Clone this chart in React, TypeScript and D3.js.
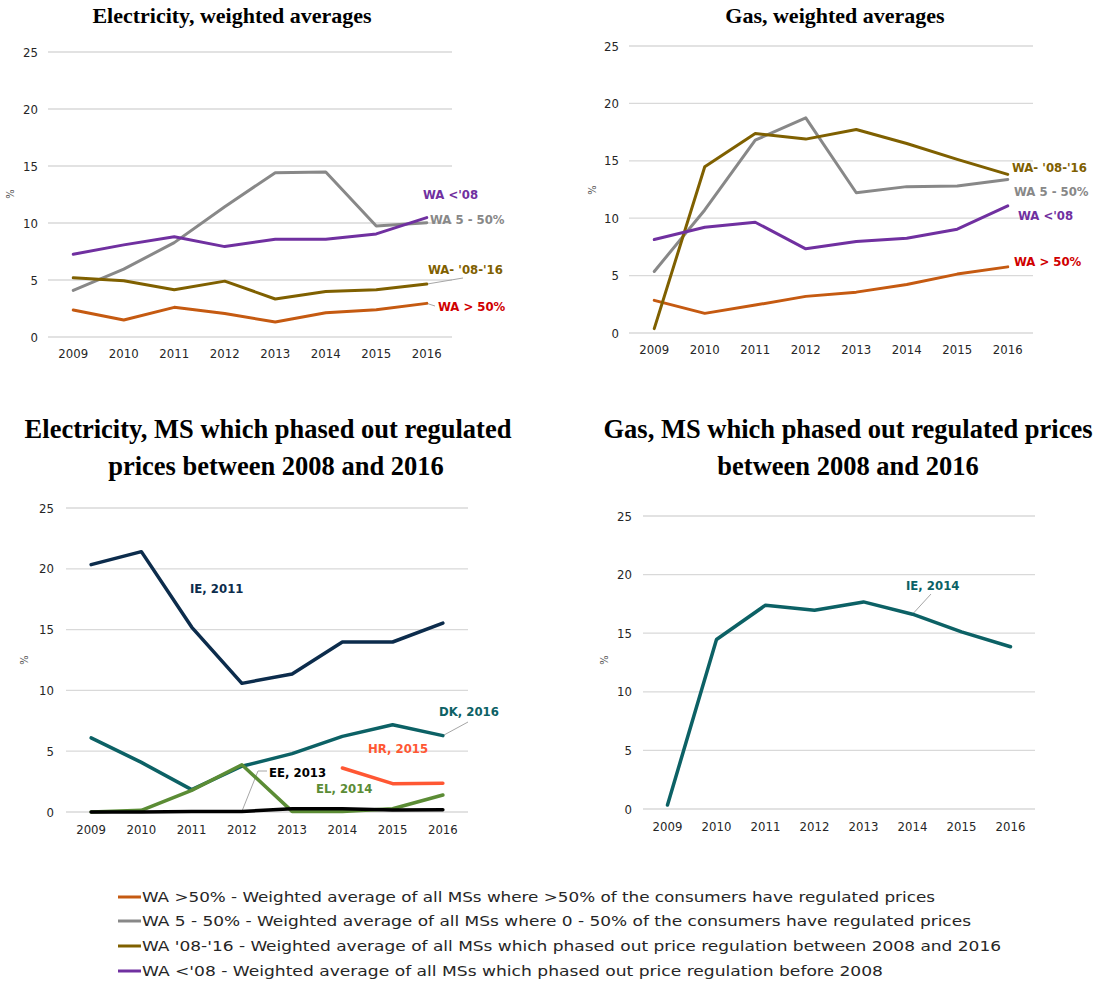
import React from "react";
import * as d3 from "d3";

const years = [2009, 2010, 2011, 2012, 2013, 2014, 2015, 2016];
const yTicks = [0, 5, 10, 15, 20, 25];

// Electricity, weighted averages
const elecWaOver50 = [2.36, 1.49, 2.6, 2.07, 1.31, 2.13, 2.39, 2.95];
const elecWa5to50 = [4.08, 5.95, 8.28, 11.43, 14.41, 14.47, 9.74, 10.03];
const elecWa0816 = [5.19, 4.93, 4.14, 4.9, 3.33, 4.0, 4.14, 4.64];
const elecWaBefore08 = [7.26, 8.08, 8.8, 7.93, 8.58, 8.58, 9.04, 10.47];

// Gas, weighted averages
const gasWaOver50 = [2.84, 1.71, 2.43, 3.19, 3.56, 4.23, 5.13, 5.76];
const gasWa5to50 = [5.36, 10.72, 16.8, 18.74, 12.22, 12.75, 12.8, 13.38];
const gasWa0816 = [0.38, 14.48, 17.38, 16.89, 17.73, 16.51, 15.12, 13.82];
const gasWaBefore08 = [8.14, 9.21, 9.65, 7.33, 7.97, 8.26, 9.04, 11.07];

// Electricity, MS which phased out regulated prices
const elecIE = [20.34, 21.41, 15.21, 10.58, 11.35, 13.98, 13.98, 15.54];
const elecDK = [6.09, 4.08, 1.84, 3.76, 4.8, 6.22, 7.18, 6.28];
const elecHR = [null, null, null, null, null, 3.62, 2.33, 2.36];
const elecEL = [0, 0.14, 1.78, 3.89, 0.05, 0.05, 0.27, 1.4];
const elecEE = [0, 0, 0.05, 0.05, 0.27, 0.27, 0.16, 0.19];

// Gas, MS which phased out regulated prices
const gasIE = [0.34, 14.46, 17.39, 16.96, 17.67, 16.62, 15.11, 13.84];

const legendItems = [
  "WA >50% - Weighted average of all MSs where >50% of the consumers have regulated prices",
  "WA 5 - 50% - Weighted average of all MSs where 0 - 50% of the consumers have regulated prices",
  "WA '08-'16 - Weighted average of all MSs which phased out price regulation between 2008 and 2016",
  "WA <'08 - Weighted average of all MSs which phased out price regulation before 2008",
];

const C = {
  orange: "#c55a11",
  gray: "#888888",
  olive: "#7f6000",
  purple: "#7030a0",
  red: "#d00000",
  navy: "#0c2c4c",
  teal: "#0c6165",
  hr: "#ff5733",
  green: "#5b8c35",
  black: "#000000",
};

const tickFont = "'DejaVu Sans Condensed', 'DejaVu Sans', sans-serif";
const labelFont = "'DejaVu Sans Condensed', 'DejaVu Sans', sans-serif";

type Series = { values: (number | null)[]; color: string; width: number };
type Label = { text: string; x: number; y: number; color: string };
type Leader = { series: number; yearIdx: number; pts: [number, number][] };

type PanelProps = {
  x0: number; x1: number; yTop: number; yBot: number;
  tickX: number; xLabelDy: number; pctX: number; pctY: number;
  series: Series[]; labels: Label[]; leaders: Leader[];
};

function Panel(p: PanelProps) {
  const x = d3.scalePoint<number>().domain(years).range([p.x0, p.x1]).padding(0.5);
  const y = d3.scaleLinear().domain([0, 25]).range([p.yBot, p.yTop]);
  const line = d3
    .line<number | null>()
    .defined((d) => d != null)
    .x((_, i) => x(years[i]) as number)
    .y((d) => y(d as number));
  return (
    <g>
      {yTicks.map((t) => (
        <g key={t}>
          <line x1={p.x0} x2={p.x1} y1={y(t)} y2={y(t)} stroke="#d9d9d9" strokeWidth={1.3} />
          <text x={p.tickX} y={y(t) + 4.5} textAnchor="end" fontFamily={tickFont} fontSize={13} fill="#262626">
            {t}
          </text>
        </g>
      ))}
      {years.map((yr) => (
        <text key={yr} x={x(yr)} y={p.yBot + p.xLabelDy} textAnchor="middle" fontFamily={tickFont} fontSize={13} fill="#262626">
          {yr}
        </text>
      ))}
      <text
        transform={`translate(${p.pctX},${p.pctY}) rotate(-90)`}
        textAnchor="middle"
        fontFamily={tickFont}
        fontSize={11}
        fill="#595959"
      >
        %
      </text>
      {p.leaders.map((l, i) => {
        const s = p.series[l.series];
        const sx = x(years[l.yearIdx]) as number;
        const sy = y(s.values[l.yearIdx] as number);
        const pts = [[sx, sy] as [number, number], ...l.pts];
        return <path key={i} d={d3.line()(pts) as string} fill="none" stroke="#a6a6a6" strokeWidth={1} />;
      })}
      {p.series.map((s, i) => (
        <path key={i} d={line(s.values) as string} fill="none" stroke={s.color} strokeWidth={s.width} strokeLinejoin="round" strokeLinecap="round" />
      ))}
      {p.labels.map((l, i) => (
        <text key={i} x={l.x} y={l.y + 4.5} fontFamily={labelFont} fontWeight="bold" fontSize={13} fill={l.color}>
          {l.text}
        </text>
      ))}
    </g>
  );
}

const titleFont = "'Liberation Serif', 'Times New Roman', serif";

export default function App() {
  const legendColors = [C.orange, C.gray, C.olive, C.purple];
  const legendLens = [793, 829, 859, 741];
  const legendY = [897, 921, 946, 971];
  return (
    <svg width={1113} height={993} style={{ position: "absolute", left: 0, top: 0, background: "#fff" }}>
      <rect width={1113} height={993} fill="#fff" />
      {/* Titles */}
      <g fontFamily={titleFont} fontWeight="bold" fill="#000" textAnchor="middle">
        <text x={232} y={23} fontSize={22}>Electricity, weighted averages</text>
        <text x={835} y={23} fontSize={22}>Gas, weighted averages</text>
        <text x={268} y={438} fontSize={26.5}>Electricity, MS which phased out regulated</text>
        <text x={276} y={475} fontSize={26.5}>prices between 2008 and 2016</text>
        <text x={848} y={438} fontSize={26.5}>Gas, MS which phased out regulated prices</text>
        <text x={848} y={475} fontSize={26.5}>between 2008 and 2016</text>
      </g>

      <Panel
        x0={48} x1={452} yTop={52} yBot={337} tickX={38} xLabelDy={21} pctX={14} pctY={194}
        series={[
          { values: elecWaOver50, color: C.orange, width: 3 },
          { values: elecWa5to50, color: C.gray, width: 3 },
          { values: elecWa0816, color: C.olive, width: 3 },
          { values: elecWaBefore08, color: C.purple, width: 3 },
        ]}
        labels={[
          { text: "WA <'08", x: 423, y: 194, color: C.purple },
          { text: "WA 5 - 50%", x: 430, y: 219, color: C.gray },
          { text: "WA- '08-'16", x: 428, y: 269, color: C.olive },
          { text: "WA > 50%", x: 438, y: 306, color: C.red },
        ]}
        leaders={[
          { series: 2, yearIdx: 7, pts: [[463, 278]] },
          { series: 0, yearIdx: 7, pts: [[435, 306]] },
        ]}
      />

      <Panel
        x0={629} x1={1033} yTop={46} yBot={333} tickX={619} xLabelDy={21} pctX={596} pctY={190}
        series={[
          { values: gasWaOver50, color: C.orange, width: 3 },
          { values: gasWa5to50, color: C.gray, width: 3 },
          { values: gasWa0816, color: C.olive, width: 3 },
          { values: gasWaBefore08, color: C.purple, width: 3 },
        ]}
        labels={[
          { text: "WA- '08-'16", x: 1012, y: 167, color: C.olive },
          { text: "WA 5 - 50%", x: 1014, y: 191, color: C.gray },
          { text: "WA <'08", x: 1018, y: 215, color: C.purple },
          { text: "WA > 50%", x: 1014, y: 261, color: C.red },
        ]}
        leaders={[]}
      />

      <Panel
        x0={66} x1={468} yTop={508} yBot={812} tickX={54} xLabelDy={22} pctX={28} pctY={660}
        series={[
          { values: elecIE, color: C.navy, width: 3.5 },
          { values: elecDK, color: C.teal, width: 3.5 },
          { values: elecHR, color: C.hr, width: 3.5 },
          { values: elecEL, color: C.green, width: 3.5 },
          { values: elecEE, color: C.black, width: 3.5 },
        ]}
        labels={[
          { text: "IE, 2011", x: 190, y: 588, color: C.navy },
          { text: "DK, 2016", x: 439, y: 711, color: C.teal },
          { text: "HR, 2015", x: 368, y: 748, color: C.hr },
          { text: "EE, 2013", x: 269, y: 772, color: C.black },
          { text: "EL, 2014", x: 316, y: 788, color: C.green },
        ]}
        leaders={[
          { series: 1, yearIdx: 7, pts: [[468, 722]] },
          { series: 4, yearIdx: 3, pts: [[258, 771], [267, 771]] },
        ]}
      />

      <Panel
        x0={643} x1={1035} yTop={516} yBot={809} tickX={632} xLabelDy={22} pctX={608} pctY={660}
        series={[{ values: gasIE, color: C.teal, width: 3.5 }]}
        labels={[{ text: "IE, 2014", x: 906, y: 585, color: C.teal }]}
        leaders={[{ series: 0, yearIdx: 5, pts: [[931, 594]] }]}
      />

      {/* Legend */}
      {legendItems.map((t, i) => (
        <g key={i}>
          <line x1={118} x2={141} y1={legendY[i]} y2={legendY[i]} stroke={legendColors[i]} strokeWidth={3} />
          <text
            x={142}
            y={legendY[i] + 5}
            fontFamily={labelFont}
            fontSize={14.5}
            fill="#262626"
            textLength={legendLens[i]}
            lengthAdjust="spacingAndGlyphs"
          >
            {t}
          </text>
        </g>
      ))}
    </svg>
  );
}
